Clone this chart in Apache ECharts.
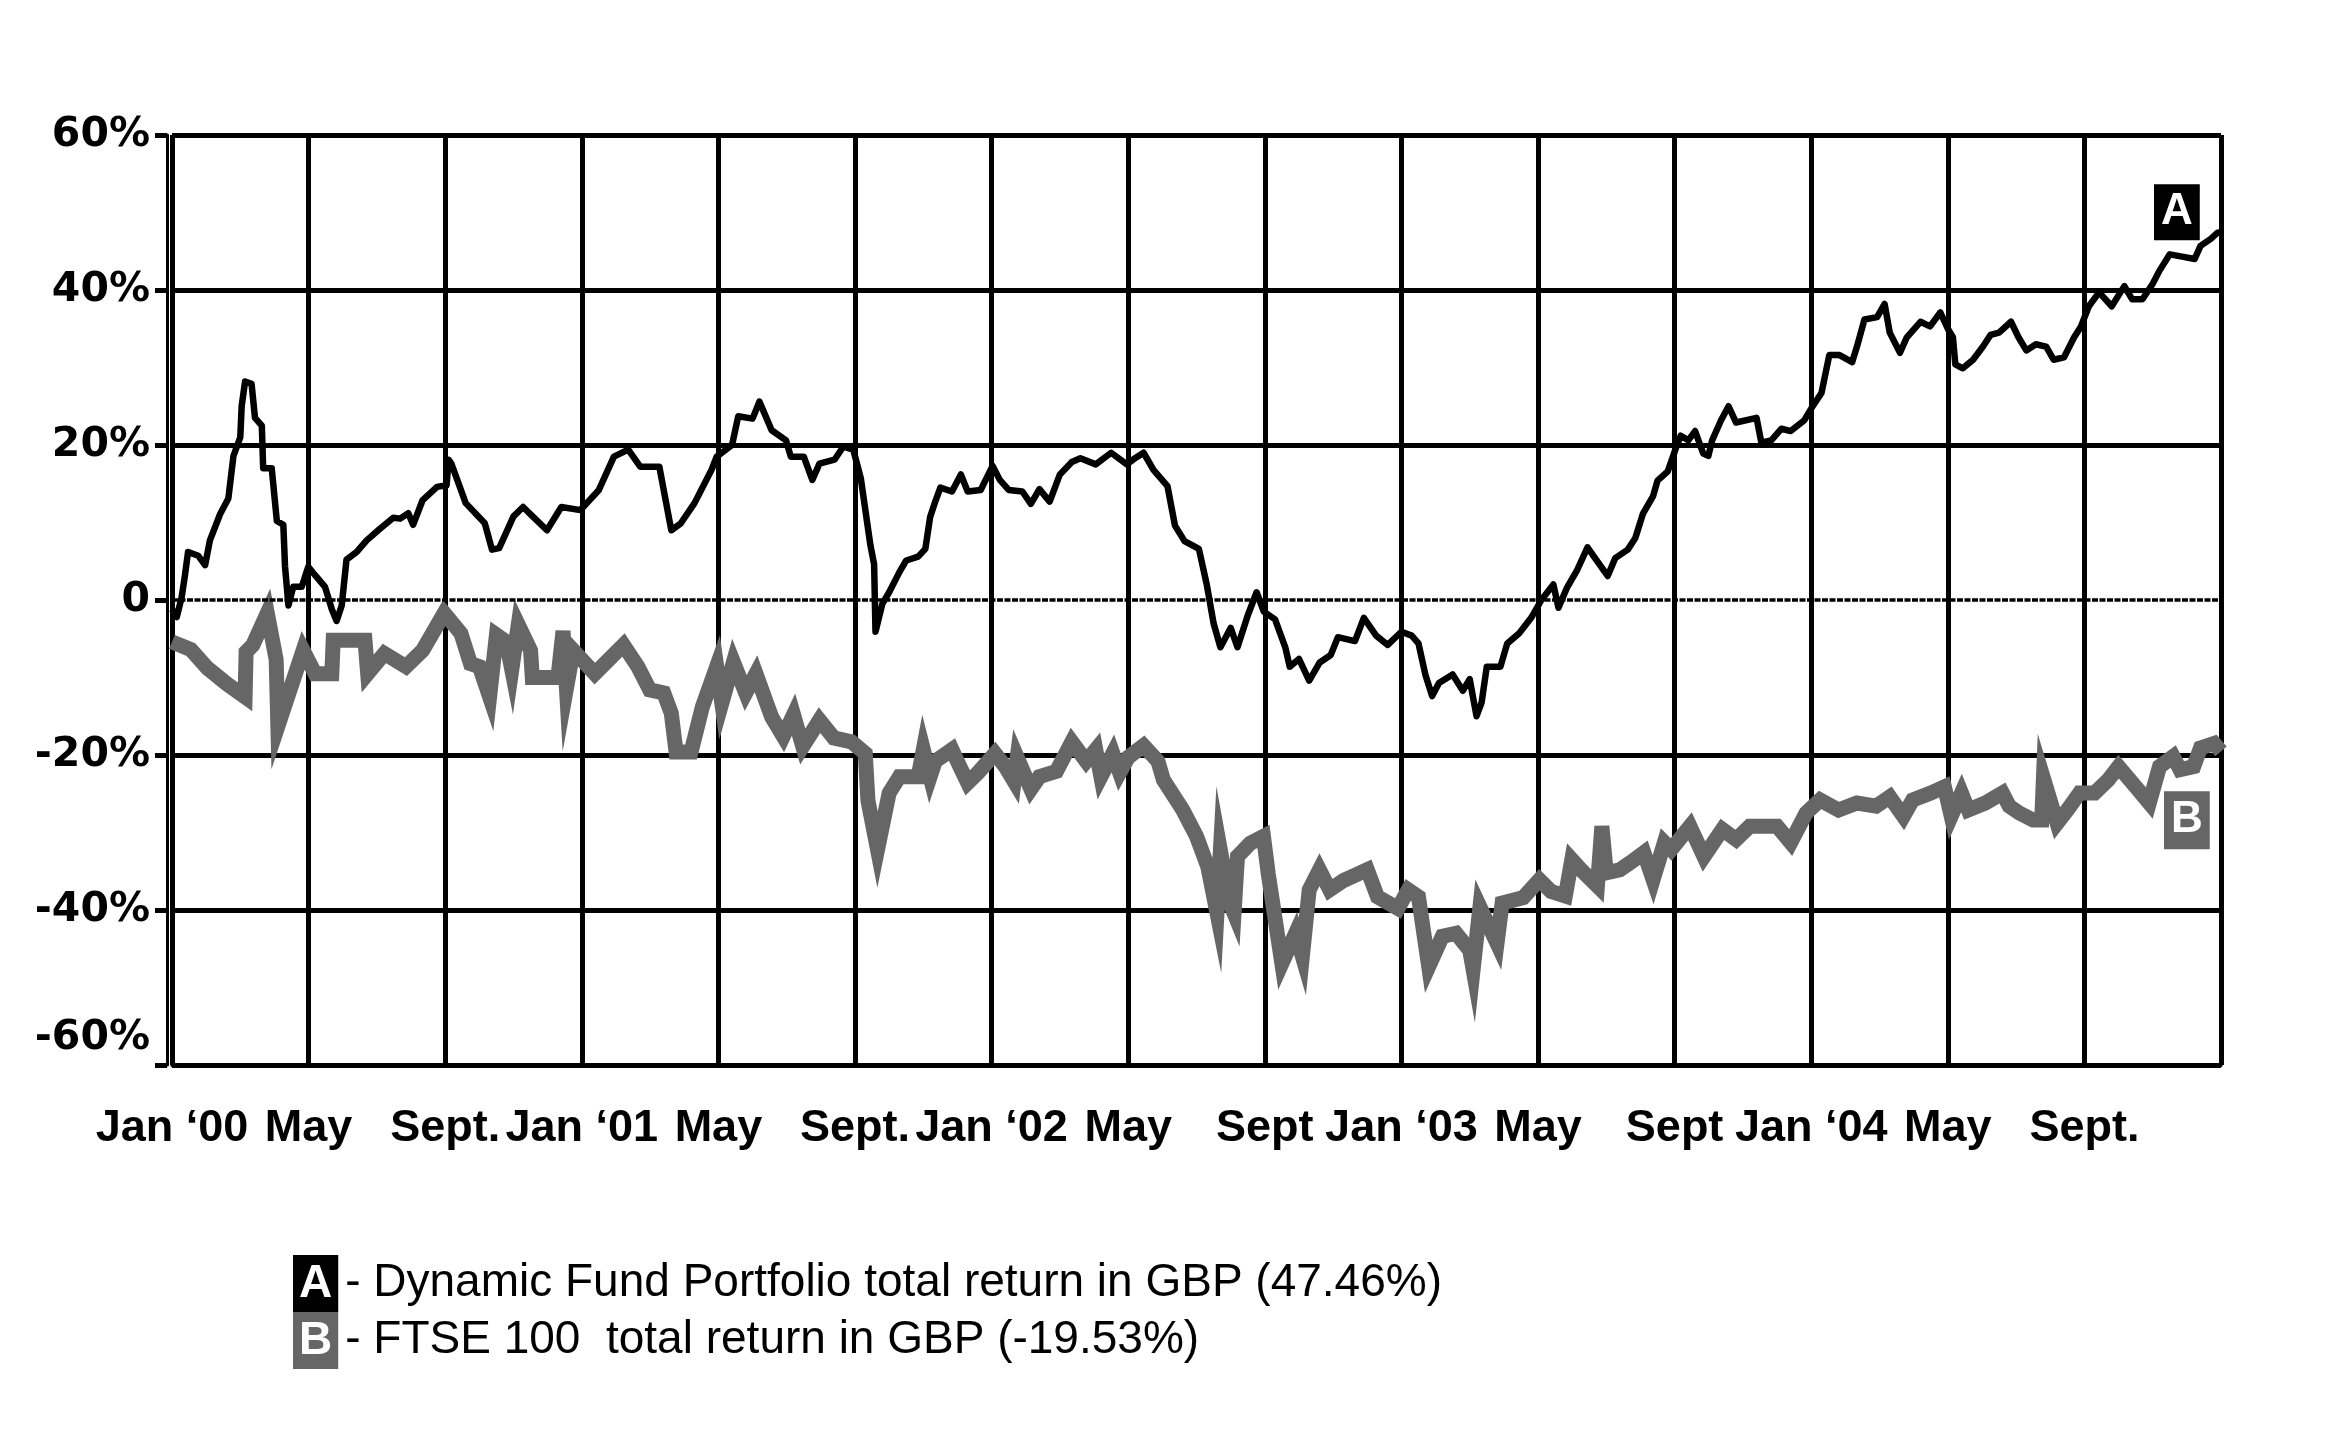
<!DOCTYPE html>
<html>
<head>
<meta charset="utf-8">
<script src="https://cdn.jsdelivr.net/npm/echarts@6/dist/echarts.min.js"></script>
<style>
html,body{margin:0;padding:0;background:#fff;}
#chart{width:2345px;height:1437px;}
</style>
</head>
<body>
<div id="chart"></div>
<script>
// ---- DATA (x = months since Jan 2000, y = total return %) ----
const fundReturn = [[0,-1.2],[0.14,-2.2],[0.28,0.3],[0.38,3.2],[0.47,6.2],[0.77,5.7],[0.97,4.5],[1.11,7.7],[1.41,11.1],[1.65,13.1],[1.8,18.6],[2.0,21.0],[2.04,25.0],[2.14,28.2],[2.33,27.9],[2.43,23.5],[2.63,22.5],[2.67,17.0],[2.92,17.0],[3.07,10.2],[3.26,9.7],[3.31,4.3],[3.41,-0.7],[3.55,1.7],[3.8,1.7],[3.99,4.3],[4.19,3.2],[4.48,1.7],[4.68,-1.2],[4.82,-2.7],[4.97,-0.7],[5.11,5.2],[5.41,6.2],[5.7,7.7],[6.09,9.2],[6.48,10.6],[6.68,10.5],[6.92,11.2],[7.06,9.7],[7.34,12.9],[7.76,14.6],[8.04,14.8],[8.1,18.1],[8.18,17.6],[8.6,12.5],[9.16,9.9],[9.37,6.5],[9.58,6.7],[10.0,10.8],[10.28,12.0],[10.56,10.8],[10.98,9.0],[11.4,12.0],[11.96,11.6],[12.5,14.2],[12.94,18.5],[13.36,19.4],[13.71,17.2],[14.27,17.2],[14.62,9.0],[14.9,9.9],[15.3,12.5],[15.8,16.8],[15.95,18.5],[16.4,20.0],[16.58,23.7],[17.0,23.4],[17.2,25.6],[17.56,21.9],[17.98,20.6],[18.12,18.5],[18.5,18.5],[18.75,15.5],[18.96,17.6],[19.4,18.1],[19.66,19.8],[19.95,19.4],[20.17,15.7],[20.3,11.7],[20.45,7.1],[20.56,4.6],[20.6,-4.1],[20.8,-0.5],[21.0,1.0],[21.3,3.6],[21.5,5.1],[21.85,5.6],[22.06,6.6],[22.2,10.7],[22.35,12.7],[22.5,14.5],[22.84,14.0],[23.1,16.2],[23.3,14.0],[23.68,14.2],[24.03,17.3],[24.24,15.5],[24.5,14.2],[24.9,14.0],[25.15,12.4],[25.4,14.3],[25.7,12.7],[26.0,16.2],[26.35,17.8],[26.6,18.3],[27.05,17.5],[27.5,19.0],[27.96,17.5],[28.2,18.3],[28.45,19.0],[28.74,16.8],[29.15,14.7],[29.37,9.6],[29.65,7.6],[30.07,6.6],[30.3,2.0],[30.5,-3.0],[30.7,-6.1],[31.0,-3.6],[31.2,-6.1],[31.5,-2.0],[31.76,1.0],[31.97,-1.5],[32.3,-2.5],[32.6,-6.1],[32.73,-8.6],[33.0,-7.6],[33.3,-10.4],[33.6,-8.1],[33.93,-7.1],[34.14,-4.8],[34.64,-5.3],[34.9,-2.3],[35.26,-4.6],[35.6,-5.8],[36.0,-4.1],[36.3,-4.6],[36.5,-5.6],[36.7,-9.6],[36.9,-12.4],[37.1,-10.7],[37.5,-9.6],[37.8,-11.7],[38.0,-10.2],[38.2,-15.0],[38.35,-13.2],[38.5,-8.6],[38.9,-8.6],[39.1,-5.6],[39.45,-4.3],[39.8,-2.3],[40.1,0.0],[40.45,2.0],[40.6,-1.0],[40.85,1.6],[41.15,3.9],[41.45,6.8],[41.67,5.4],[42.04,3.1],[42.26,5.4],[42.63,6.5],[42.85,8.0],[43.07,11.1],[43.37,13.4],[43.5,15.4],[43.8,16.6],[44.03,19.5],[44.18,21.2],[44.4,20.6],[44.6,21.8],[44.84,18.9],[44.99,18.6],[45.1,20.6],[45.36,23.2],[45.58,25.0],[45.8,22.9],[46.4,23.5],[46.54,20.3],[46.83,20.6],[47.13,22.1],[47.4,21.8],[47.8,23.2],[48.0,24.7],[48.3,26.7],[48.53,31.6],[48.83,31.6],[49.2,30.7],[49.34,32.7],[49.56,36.2],[49.93,36.5],[50.15,38.2],[50.3,34.5],[50.6,31.9],[50.8,33.9],[51.2,35.9],[51.48,35.3],[51.78,37.1],[52.0,35.0],[52.15,33.9],[52.22,30.4],[52.44,29.9],[52.74,31.0],[53.03,32.7],[53.25,34.2],[53.5,34.5],[53.85,35.9],[54.07,33.9],[54.3,32.2],[54.58,33.0],[54.88,32.7],[55.1,31.0],[55.4,31.3],[55.7,33.9],[55.9,35.3],[56.13,37.9],[56.43,39.7],[56.8,37.9],[57.17,40.5],[57.4,38.8],[57.7,38.8],[58.0,40.8],[58.2,42.5],[58.5,44.6],[58.86,44.3],[59.23,44.0],[59.4,45.7],[59.7,46.6],[59.9,47.4],[60.0,47.46]];

const ftseReturn = [[0,-5.4],[0.55,-6.4],[1.04,-8.8],[1.6,-10.8],[2.14,-12.5],[2.17,-6.7],[2.37,-5.8],[2.79,-1.7],[3.05,-7.7],[3.1,-16.3],[3.84,-6.5],[4.19,-9.5],[4.68,-9.5],[4.72,-5.2],[5.65,-5.2],[5.73,-9.5],[6.22,-6.9],[6.85,-8.6],[7.34,-6.5],[7.97,-1.7],[8.46,-4.3],[8.74,-8.2],[9.0,-8.6],[9.3,-12.5],[9.5,-4.5],[9.79,-5.4],[9.95,-9.0],[10.14,-3.2],[10.5,-6.5],[10.55,-10.0],[11.3,-10.0],[11.45,-4.0],[11.55,-11.4],[11.75,-6.5],[12.38,-9.5],[13.22,-5.8],[13.64,-8.6],[13.99,-11.6],[14.4,-12.0],[14.62,-14.6],[14.76,-19.6],[15.2,-19.6],[15.53,-13.8],[15.95,-8.6],[16.1,-13.3],[16.44,-8.0],[16.8,-12.0],[17.1,-9.5],[17.56,-15.1],[17.9,-17.6],[18.2,-14.8],[18.47,-18.9],[18.96,-15.5],[19.38,-17.8],[19.9,-18.3],[20.3,-19.8],[20.38,-25.9],[20.66,-32.2],[21.0,-24.9],[21.3,-22.8],[21.85,-22.8],[22.0,-19.3],[22.2,-22.8],[22.35,-20.8],[22.84,-19.3],[23.05,-21.3],[23.3,-23.6],[23.6,-22.3],[24.1,-19.8],[24.4,-21.5],[24.66,-23.4],[24.75,-20.3],[25.15,-24.4],[25.4,-22.8],[25.9,-22.1],[26.35,-18.3],[26.77,-20.8],[27.05,-19.3],[27.2,-22.8],[27.55,-19.8],[27.75,-22.3],[28.0,-20.3],[28.45,-18.8],[28.87,-20.8],[29.03,-23.2],[29.6,-27.1],[30.0,-30.5],[30.33,-34.4],[30.6,-40.4],[30.7,-32.3],[30.98,-39.1],[31.1,-40.4],[31.2,-33.1],[31.57,-31.4],[31.96,-30.5],[32.1,-35.3],[32.5,-46.9],[32.9,-43.0],[33.1,-46.0],[33.3,-37.4],[33.6,-34.8],[33.9,-37.4],[34.3,-36.2],[35.0,-34.8],[35.3,-38.3],[35.9,-39.8],[36.2,-37.4],[36.5,-38.3],[36.8,-47.3],[37.2,-43.4],[37.6,-43.0],[38.0,-45.2],[38.1,-47.7],[38.3,-39.6],[38.8,-44.3],[38.95,-39.1],[39.3,-38.7],[39.57,-38.4],[40.04,-36.1],[40.38,-37.6],[40.8,-38.2],[40.99,-33.5],[41.26,-34.8],[41.74,-36.9],[41.87,-29.2],[42.0,-35.2],[42.4,-34.8],[42.7,-33.9],[43.1,-32.6],[43.37,-36.1],[43.7,-31.3],[43.9,-32.2],[44.45,-29.2],[44.86,-33.1],[45.4,-29.6],[45.8,-30.9],[46.2,-29.2],[47.0,-29.2],[47.4,-31.3],[47.85,-27.5],[48.26,-25.8],[48.8,-27.1],[49.34,-26.2],[49.9,-26.6],[50.3,-25.4],[50.7,-27.9],[50.97,-25.8],[51.5,-24.9],[51.9,-24.1],[52.1,-27.9],[52.4,-24.9],[52.6,-27.1],[53.1,-26.2],[53.6,-24.9],[53.8,-26.6],[54.1,-27.5],[54.5,-28.4],[54.75,-28.4],[54.8,-23.0],[55.2,-28.8],[55.5,-27.1],[55.86,-24.9],[56.3,-24.9],[56.7,-23.2],[57.0,-21.5],[57.5,-24.1],[57.9,-26.2],[58.2,-21.5],[58.6,-20.2],[58.8,-21.9],[59.2,-21.5],[59.4,-19.1],[59.8,-18.5],[60.0,-19.53]];

const xTickLabels = ['Jan \u201800','May','Sept.','Jan \u201801','May','Sept.','Jan \u201802','May','Sept','Jan \u201803','May','Sept','Jan \u201804','May','Sept.',''];
const yTickValues = [-60,-40,-20,0,20,40,60];
const yTickLabels = ['-60%','-40%','-20%','0','20%','40%','60%'];
const seriesNames = ['Dynamic Fund Portfolio total return in GBP (47.46%)','FTSE 100  total return in GBP (-19.53%)'];
const seriesLetters = ['A','B'];

// ---- STYLE ----
const SANS = "'Liberation Sans',Arial,sans-serif";
const BLACK = '#000000';
const GREY = '#666666';

const chart = echarts.init(document.getElementById('chart'), null, {renderer: 'canvas'});

const boxStyle = (bg) => ({
  backgroundColor: bg, color: '#fff', fontFamily: SANS, fontWeight: 'bold',
  fontSize: 46, lineHeight: 46, padding: [6, 6, 5, 6], align: 'center'
});

const option = {
  animation: false,
  backgroundColor: '#ffffff',
  grid: {left: 172, right: 124, top: 135, bottom: 372, containLabel: false},
  legend: {
    show: true,
    orient: 'vertical',
    left: 283,
    top: 1250,
    itemWidth: 0,
    itemHeight: 0,
    itemGap: 0,
    icon: 'rect',
    selectedMode: false,
    data: seriesNames,
    formatter: function (name) {
      const i = seriesNames.indexOf(name);
      return '{k' + i + '|' + seriesLetters[i] + '}{t|- ' + name + '}';
    },
    textStyle: {
      rich: {
        k0: boxStyle(BLACK),
        k1: boxStyle(GREY),
        t: {color: '#000', fontFamily: SANS, fontSize: 46, lineHeight: 46, padding: [0, 0, 0, 7]}
      }
    }
  },
  xAxis: {
    type: 'value',
    min: 0, max: 60, interval: 4,
    axisLine: {show: true, onZero: false, lineStyle: {color: BLACK, width: 3}},
    axisTick: {show: false},
    splitLine: {show: true, lineStyle: {color: BLACK, width: 5}},
    axisLabel: {
      show: true, showMinLabel: true, showMaxLabel: true, hideOverlap: false,
      margin: 41, color: BLACK,
      fontFamily: SANS, fontWeight: 'bold', fontSize: 45,
      formatter: function (v) { return xTickLabels[Math.round(v / 4)] || ''; }
    }
  },
  yAxis: {
    type: 'value',
    min: -60, max: 60, interval: 20,
    offset: 5,
    axisLine: {show: true, onZero: false, lineStyle: {color: BLACK, width: 3}},
    axisTick: {show: true, length: 12, lineStyle: {color: BLACK, width: 5}},
    splitLine: {show: true, lineStyle: {color: [BLACK, BLACK, BLACK, 'rgba(0,0,0,0)', BLACK, BLACK, BLACK], width: 5}},
    axisLabel: {
      margin: 17, color: BLACK, showMinLabel: true, showMaxLabel: true,
      fontFamily: "'DejaVu Sans',sans-serif", fontWeight: 'bold', fontSize: 41,
      formatter: function (v) {
        const i = yTickValues.indexOf(Math.round(v));
        const s = i >= 0 ? yTickLabels[i] : '';
        return i === 0 ? '{low|' + s + '}' : s;
      },
      rich: {
        low: {color: BLACK, fontFamily: "'DejaVu Sans',sans-serif", fontWeight: 'bold', fontSize: 41, padding: [0, 0, 54, 0]}
      }
    }
  },
  series: [
    {
      name: 'zero',
      type: 'line',
      data: [],
      z: 1,
      silent: true,
      markLine: {
        silent: true,
        symbol: ['none', 'none'],
        label: {show: false},
        lineStyle: {color: BLACK, width: 3.5, type: [6, 1.5]},
        data: [{yAxis: 0}]
      }
    },
    {
      name: seriesNames[0],
      type: 'line',
      data: fundReturn,
      showSymbol: false,
      symbol: 'none',
      z: 3,
      lineStyle: {color: BLACK, width: 6.5, join: 'round'},
      itemStyle: {color: BLACK},
      endLabel: {
        show: true, formatter: seriesLetters[0],
        backgroundColor: BLACK, color: '#fff', fontFamily: SANS, fontWeight: 'bold',
        fontSize: 44, lineHeight: 46, padding: [5, 7, 5, 7],
        offset: [-75, -20]
      }
    },
    {
      name: seriesNames[1],
      type: 'line',
      data: ftseReturn,
      showSymbol: false,
      symbol: 'none',
      z: 4,
      lineStyle: {color: GREY, width: 15, join: 'miter', miterLimit: 10, cap: 'butt'},
      itemStyle: {color: GREY},
      endLabel: {
        show: true, formatter: seriesLetters[1],
        backgroundColor: GREY, color: '#fff', fontFamily: SANS, fontWeight: 'bold',
        fontSize: 44, lineHeight: 46, padding: [6, 7, 6, 7],
        offset: [-65, 69]
      }
    }
  ]
};

chart.setOption(option);
</script>
</body>
</html>
